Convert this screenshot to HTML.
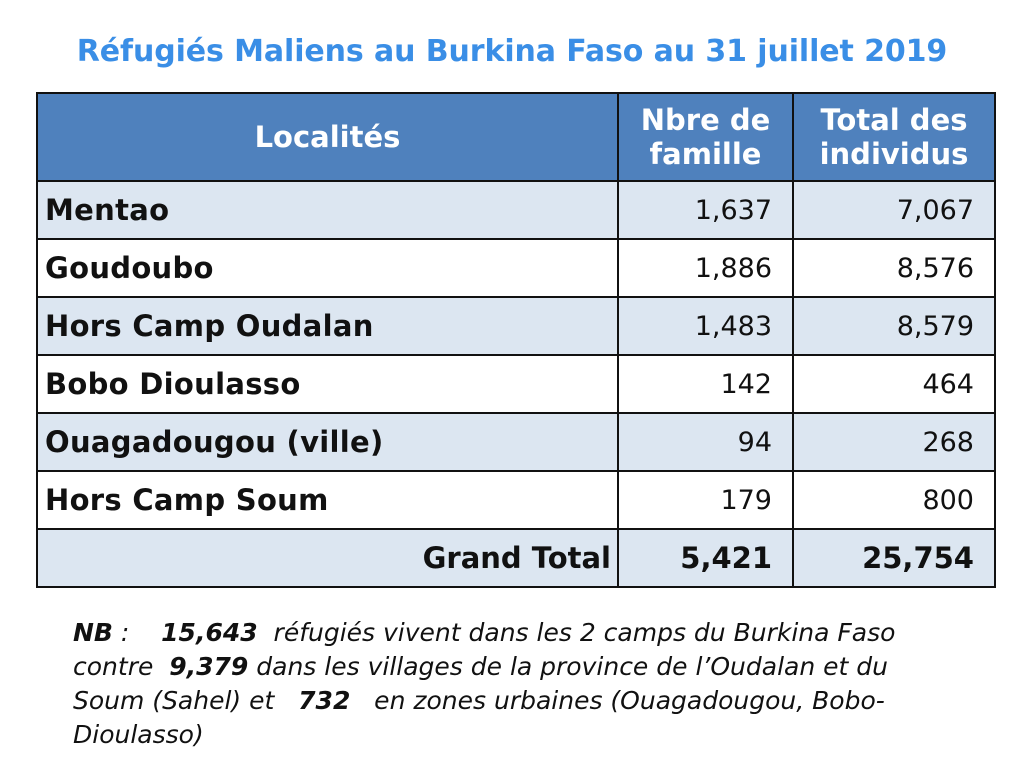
<!DOCTYPE html>
<html><head><meta charset="utf-8"><style>
body{margin:0;width:1024px;height:768px;background:#fff;position:relative;overflow:hidden;font-family:"DejaVu Sans","Liberation Sans",sans-serif}
.t{position:absolute;left:0;width:1024px;top:34px;text-align:center;color:#3a8ee6;font:bold 30px "DejaVu Sans",sans-serif;letter-spacing:-0.1px}
.c{position:absolute;box-sizing:border-box;border:2.5px solid #111;display:flex;align-items:center;font-size:27px;color:#111}
.h{background:#4f81bd;color:#fff;font-weight:bold;justify-content:center;text-align:center;line-height:34px;font-size:29px}
.b{background:#dce6f1}
.l{font-weight:bold;padding-left:7px;font-size:29px;letter-spacing:0.3px}
.n{justify-content:flex-end;padding-right:20px}
.nb{position:absolute;left:73px;top:616px;font:italic 25px "DejaVu Sans",sans-serif;line-height:34px;color:#111;letter-spacing:0px}
</style></head><body>
<div class="t">Réfugiés Maliens au Burkina Faso au 31 juillet 2019</div>
<div class="c h" style="left:36px;top:92px;width:583px;height:90px">Localités</div>
<div class="c h" style="left:617px;top:92px;width:177px;height:90px">Nbre de<br>famille</div>
<div class="c h" style="left:792px;top:92px;width:204px;height:90px">Total des<br>individus</div>

<div class="c l b" style="left:36px;top:180px;width:583px;height:60px">Mentao</div>
<div class="c n b" style="left:617px;top:180px;width:177px;height:60px">1,637</div>
<div class="c n b" style="left:792px;top:180px;width:204px;height:60px">7,067</div>

<div class="c l" style="left:36px;top:238px;width:583px;height:60px">Goudoubo</div>
<div class="c n" style="left:617px;top:238px;width:177px;height:60px">1,886</div>
<div class="c n" style="left:792px;top:238px;width:204px;height:60px">8,576</div>

<div class="c l b" style="left:36px;top:296px;width:583px;height:60px">Hors Camp Oudalan</div>
<div class="c n b" style="left:617px;top:296px;width:177px;height:60px">1,483</div>
<div class="c n b" style="left:792px;top:296px;width:204px;height:60px">8,579</div>

<div class="c l" style="left:36px;top:354px;width:583px;height:60px">Bobo Dioulasso</div>
<div class="c n" style="left:617px;top:354px;width:177px;height:60px">142</div>
<div class="c n" style="left:792px;top:354px;width:204px;height:60px">464</div>

<div class="c l b" style="left:36px;top:412px;width:583px;height:60px">Ouagadougou (ville)</div>
<div class="c n b" style="left:617px;top:412px;width:177px;height:60px">94</div>
<div class="c n b" style="left:792px;top:412px;width:204px;height:60px">268</div>

<div class="c l" style="left:36px;top:470px;width:583px;height:60px">Hors Camp Soum</div>
<div class="c n" style="left:617px;top:470px;width:177px;height:60px">179</div>
<div class="c n" style="left:792px;top:470px;width:204px;height:60px">800</div>

<div class="c b" style="left:36px;top:528px;width:583px;height:60px;justify-content:flex-end;padding-right:6px;font-weight:bold;font-size:29px">Grand Total</div>
<div class="c n b" style="left:617px;top:528px;width:177px;height:60px;font-weight:bold;font-size:29px">5,421</div>
<div class="c n b" style="left:792px;top:528px;width:204px;height:60px;font-weight:bold;font-size:29px">25,754</div>

<div class="nb"><b>NB</b> :&nbsp;&nbsp;&nbsp; <b>15,643</b>&nbsp; réfugiés vivent dans les 2 camps du Burkina Faso<br>contre&nbsp; <b>9,379</b> dans les villages de la province de l’Oudalan et du<br>Soum (Sahel) et&nbsp;&nbsp; <b>732</b>&nbsp;&nbsp; en zones urbaines (Ouagadougou, Bobo-<br>Dioulasso)</div>
</body></html>
